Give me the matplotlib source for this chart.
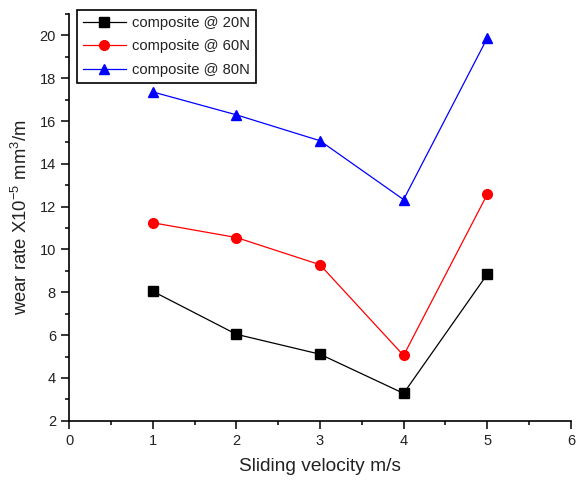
import matplotlib
matplotlib.use("Agg")
import matplotlib.pyplot as plt
from matplotlib.ticker import MultipleLocator

plt.rcParams['font.family'] = ['Liberation Sans', 'DejaVu Sans']
plt.rcParams['mathtext.default'] = 'regular'

velocity = [1, 2, 3, 4, 5]
wear_20n = [8.05, 6.04, 5.11, 3.28, 8.84]
wear_60n = [11.25, 10.56, 9.29, 5.05, 12.57]
wear_80n = [17.36, 16.29, 15.08, 12.33, 19.87]
labels = ['composite @ 20N', 'composite @ 60N', 'composite @ 80N']

txt = '#222222'
fig = plt.figure(figsize=(5.76, 4.82), dpi=100)
ax = fig.add_axes([0.12, 0.127, 0.871, 0.844])

ax.plot(velocity, wear_20n, color='black', marker='s', ms=6.5, lw=0.9, label=labels[0])
ax.plot(velocity, wear_60n, color='red', marker='o', ms=7, lw=0.9, label=labels[1])
ax.plot(velocity, wear_80n, color='blue', marker='^', ms=7.5, lw=0.9, label=labels[2])

ax.set_xlim(0, 6)
ax.set_ylim(2, 21)
ax.xaxis.set_major_locator(MultipleLocator(1))
ax.xaxis.set_minor_locator(MultipleLocator(0.5))
ax.yaxis.set_major_locator(MultipleLocator(2))
ax.yaxis.set_minor_locator(MultipleLocator(1))

for s in ['top', 'right']:
    ax.spines[s].set_visible(False)
for s in ['left', 'bottom']:
    ax.spines[s].set_linewidth(1.2)
ax.tick_params(which='major', length=6, width=1.1, direction='out', labelsize=10.5, labelcolor=txt)
ax.tick_params(which='minor', length=3, width=1.1, direction='out')

ax.set_xlabel('Sliding velocity m/s', fontsize=13.8, color=txt, labelpad=7)
ax.set_ylabel('wear rate X10$^{-5}$ mm$^{3}$/m', fontsize=13.3, color=txt, labelpad=6)

leg = ax.legend(loc='upper left', bbox_to_anchor=(0.016, 1.01), fontsize=10.6, handlelength=2.9,
                fancybox=False, framealpha=1, edgecolor='black', borderpad=0.4,
                labelspacing=0.65, handletextpad=0.4, borderaxespad=0)
leg.get_frame().set_linewidth(1.2)
for t in leg.get_texts():
    t.set_color(txt)

fig.savefig('out.png', dpi=100)
